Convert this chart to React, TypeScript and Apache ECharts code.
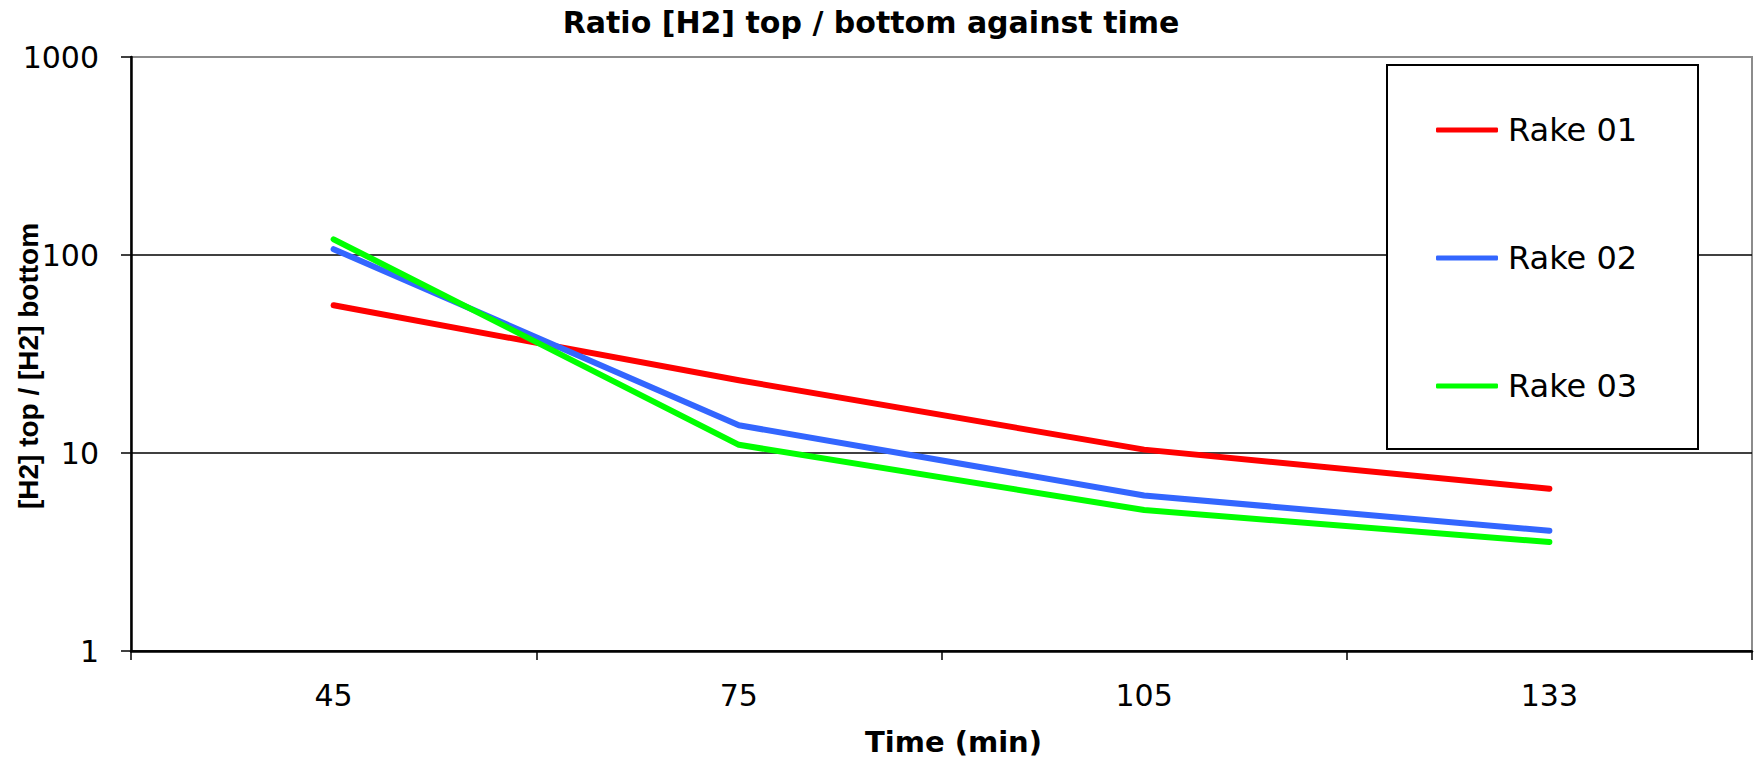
import React, { useEffect, useRef } from "react";
import * as echarts from "echarts";

const categories = ["45", "75", "105", "133"];
const rake01 = [55.7, 23.3, 10.4, 6.6];
const rake02 = [107, 13.8, 6.1, 4.05];
const rake03 = [120, 11, 5.15, 3.55];
const seriesNames = ["Rake 01", "Rake 02", "Rake 03"];
const seriesColors = ["#ff0000", "#3366ff", "#00ff00"];
const yTickLabels = ["1", "10", "100", "1000"];

const FONT = "'DejaVu Sans', 'Liberation Sans', sans-serif";

export default function App() {
  const ref = useRef<HTMLDivElement>(null);
  useEffect(() => {
    document.body.style.margin = "0";
    const chart = echarts.init(ref.current!, null, { renderer: "svg" });
    const values = [rake01, rake02, rake03];
    chart.setOption({
      animation: false,
      backgroundColor: "#ffffff",
      title: {
        text: "Ratio [H2] top / bottom against time",
        left: 871,
        top: 7,
        textAlign: "center",
        padding: 0,
        textStyle: { fontFamily: FONT, fontWeight: "bold", fontSize: 30, color: "#000" },
      },
      grid: {
        left: 131,
        top: 57,
        right: 2,
        bottom: 111,
        containLabel: false,
        outerBoundsMode: "none",
        show: true,
        borderColor: "#8c8c8c",
        borderWidth: 2,
        backgroundColor: "transparent",
      },
      legend: {
        orient: "vertical",
        left: 1436,
        top: 114,
        padding: 0,
        itemGap: 96,
        itemWidth: 62,
        itemHeight: 5,
        icon: "roundRect",
        data: seriesNames,
        textStyle: { fontFamily: FONT, fontSize: 32, color: "#000", padding: [0, 0, 0, 5] },
        z: 5,
      },
      graphic: [
        {
          type: "rect",
          shape: { x: 1387, y: 65, width: 311, height: 384 },
          style: { fill: "#ffffff", stroke: "#000", lineWidth: 2 },
          z: 3,
        },
      ],
      xAxis: {
        type: "category",
        data: categories,
        boundaryGap: true,
        name: "Time (min)",
        nameLocation: "middle",
        nameGap: 76,
        nameMoveOverlap: false,
        nameTextStyle: {
          fontFamily: FONT,
          fontWeight: "bold",
          fontSize: 29,
          color: "#000",
          padding: [0, 0, 0, 24],
        },
        axisLine: { lineStyle: { color: "#000", width: 2.5 } },
        axisTick: { show: true, interval: 0, length: 9, lineStyle: { color: "#000", width: 1.5 } },
        axisLabel: { fontFamily: FONT, fontSize: 30, color: "#000", margin: 29, interval: 0 },
        splitLine: { show: false },
      },
      yAxis: {
        type: "log",
        logBase: 10,
        min: 1,
        max: 1000,
        name: "[H2] top / [H2] bottom",
        nameLocation: "middle",
        nameGap: 89,
        nameRotate: 90,
        nameMoveOverlap: false,
        nameTextStyle: {
          fontFamily: "'Liberation Sans', Arial, sans-serif",
          fontWeight: "bold",
          fontSize: 28,
          color: "#000",
          padding: [0, 24, 0, 0],
        },
        axisLine: { show: true, lineStyle: { color: "#000", width: 2.5 } },
        axisTick: { show: true, length: 10, lineStyle: { color: "#000", width: 1.5 } },
        axisLabel: {
          fontFamily: FONT,
          fontSize: 30,
          color: "#000",
          margin: 32,
          formatter: (v: number) => yTickLabels[Math.round(Math.log10(v))] ?? String(v),
        },
        splitLine: { show: true, lineStyle: { color: ["#000", "#000", "#000", "#8c8c8c"], width: 1.5 } },
        minorTick: { show: false },
      },
      series: values.map((d, i) => ({
        name: seriesNames[i],
        type: "line",
        data: d,
        symbol: "none",
        smooth: false,
        color: seriesColors[i],
        lineStyle: { color: seriesColors[i], width: 6, cap: "round", join: "round" },
        z: 2,
      })),
    });
    return () => chart.dispose();
  }, []);
  return <div ref={ref} style={{ width: 1754, height: 762 }} />;
}
